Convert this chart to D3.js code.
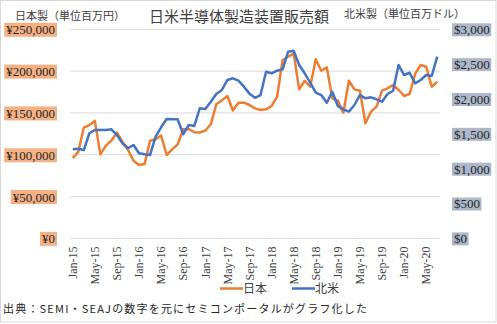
<!DOCTYPE html>
<html>
<head>
<meta charset="utf-8">
<script src="https://cdn.jsdelivr.net/npm/d3@7"></script>
<style>
  body { margin: 0; background: #fff; }
  svg { display: block; }
</style>
</head>
<body>
<svg id="chart" width="497" height="324"></svg>
<script>
// months Jan-15 .. Jul-20
var months = ["Jan-15","Feb-15","Mar-15","Apr-15","May-15","Jun-15","Jul-15","Aug-15","Sep-15","Oct-15","Nov-15","Dec-15",
  "Jan-16","Feb-16","Mar-16","Apr-16","May-16","Jun-16","Jul-16","Aug-16","Sep-16","Oct-16","Nov-16","Dec-16",
  "Jan-17","Feb-17","Mar-17","Apr-17","May-17","Jun-17","Jul-17","Aug-17","Sep-17","Oct-17","Nov-17","Dec-17",
  "Jan-18","Feb-18","Mar-18","Apr-18","May-18","Jun-18","Jul-18","Aug-18","Sep-18","Oct-18","Nov-18","Dec-18",
  "Jan-19","Feb-19","Mar-19","Apr-19","May-19","Jun-19","Jul-19","Aug-19","Sep-19","Oct-19","Nov-19","Dec-19",
  "Jan-20","Feb-20","Mar-20","Apr-20","May-20","Jun-20","Jul-20"];

// 日本製 (百万円)
var japan = [96000,103500,132500,135500,140500,100500,111000,117000,126500,115500,105700,92900,
  87800,89000,116800,118500,123000,99700,106500,112500,130500,130800,127000,126600,
  129000,136500,160500,165000,170300,153000,162300,162300,159500,155500,153500,154300,
  158300,169400,213300,217200,221200,178200,188500,181300,214100,200400,204500,167500,
  164700,150300,188500,178200,176600,137600,151500,157500,176600,179400,183400,177400,
  170300,172600,196600,207300,205300,181300,187400];

// 北米製 (百万ドル)
var northAmerica = [1278,1287,1268,1508,1555,1555,1555,1565,1483,1364,1293,1340,
  1221,1207,1197,1459,1594,1713,1708,1708,1494,1627,1613,1866,
  1857,1962,2072,2129,2273,2297,2263,2177,2077,2017,2057,2392,
  2369,2406,2426,2679,2693,2488,2369,2234,2091,2057,1947,2105,
  1900,1852,1818,1914,2057,2010,2024,1996,1962,2072,2119,2488,
  2344,2377,2225,2273,2344,2330,2607];

var yenTicks = [0,50000,100000,150000,200000,250000];
var usdTicks = [0,500,1000,1500,2000,2500,3000];

var series = [
  {name: "日本", values: japan, color: "#ED7D31", axis: "left"},
  {name: "北米", values: northAmerica, color: "#4472C4", axis: "right"}
];

var SERIF = '"Liberation Serif", "DejaVu Serif", serif';
var JP = '"Noto Sans CJK JP", sans-serif';

var svg = d3.select("#chart");
var margin = {top: 29.3, right: 57, bottom: 85.6, left: 70},
    width = 497 - margin.left - margin.right,
    height = 324 - margin.top - margin.bottom;

// outer border
svg.append("rect")
  .attr("x", 0.5).attr("y", 0.5).attr("width", 495.5).attr("height", 321.5)
  .style("fill", "none").style("stroke", "#d9d9d9");

var x = d3.scaleBand().domain(months).range([margin.left, margin.left + width]).padding(0);
var yL = d3.scaleLinear().domain([0, 250000]).range([margin.top + height, margin.top]);
var yR = d3.scaleLinear().domain([0, 3000]).range([margin.top + height, margin.top]);

// gridlines
svg.append("g").selectAll("line").data(yenTicks).join("line")
  .attr("x1", margin.left).attr("x2", margin.left + width)
  .attr("y1", d => yL(d)).attr("y2", d => yL(d))
  .style("stroke", "#d9d9d9").style("stroke-width", 1);

// left axis
var gL = svg.append("g")
  .attr("transform", "translate(57,0)")
  .call(d3.axisLeft(yL).tickValues(yenTicks).tickSize(0).tickPadding(2)
    .tickFormat(d => "¥" + d3.format(",")(d)));
gL.select(".domain").remove();
gL.selectAll("text")
  .attr("x", -2).attr("dy", "0.34em")
  .style("font-family", SERIF).style("font-size", "13px").style("fill", "#262626");
gL.selectAll(".tick").each(function() {
  var t = d3.select(this).select("text");
  var b = t.node().getBBox();
  d3.select(this).insert("rect", "text")
    .attr("x", b.x - 2).attr("y", -7).attr("width", b.width + 4).attr("height", 14)
    .style("fill", "#F4B183");
});

// right axis
var gR = svg.append("g")
  .attr("transform", "translate(452,0)")
  .call(d3.axisRight(yR).tickValues(usdTicks).tickSize(0).tickPadding(2)
    .tickFormat(d => "$" + d3.format(",")(d)));
gR.select(".domain").remove();
gR.selectAll("text")
  .attr("dy", "0.34em")
  .style("font-family", SERIF).style("font-size", "13px").style("fill", "#262626");
gR.selectAll(".tick").each(function() {
  var t = d3.select(this).select("text");
  var b = t.node().getBBox();
  d3.select(this).insert("rect", "text")
    .attr("x", 0).attr("y", -6.5).attr("width", b.x + b.width + 1.5).attr("height", 13)
    .style("fill", "#ADB9CA");
});

// x axis
var gX = svg.append("g")
  .attr("transform", `translate(0, ${margin.top + height})`)
  .call(d3.axisBottom(x).tickValues(months.filter((d, i) => i % 4 === 0)).tickSize(0));
gX.select(".domain").remove();
gX.selectAll("text")
  .attr("transform", "rotate(-90)")
  .attr("x", -8).attr("y", 0).attr("dy", "0.35em")
  .style("text-anchor", "end")
  .style("font-family", SERIF).style("font-size", "12px").style("fill", "#404040");

// lines
series.forEach(function(s) {
  var yS = s.axis === "left" ? yL : yR;
  var line = d3.line()
    .x((d, i) => x(months[i]) + x.bandwidth() / 2)
    .y(d => yS(d));
  svg.append("path")
    .datum(s.values)
    .attr("d", line)
    .style("fill", "none")
    .style("stroke", s.color)
    .style("stroke-width", 2.5)
    .style("stroke-linejoin", "round");
});

// titles
svg.append("text")
  .attr("x", 239).attr("y", 22)
  .style("font-family", JP).style("font-size", "15px").style("fill", "#404040").style("text-anchor", "middle")
  .text("日米半導体製造装置販売額");
svg.append("text")
  .attr("x", 15).attr("y", 20)
  .style("font-family", JP).style("font-size", "11px").style("fill", "#404040")
  .text("日本製（単位百万円）");
svg.append("text")
  .attr("x", 344).attr("y", 18)
  .style("font-family", JP).style("font-size", "11px").style("fill", "#404040")
  .text("北米製（単位百万ドル）");

// legend
var legend = svg.append("g");
var legendX = [220, 292];
series.forEach(function(s, i) {
  legend.append("line")
    .attr("x1", legendX[i]).attr("x2", legendX[i] + 23)
    .attr("y1", 288.5).attr("y2", 288.5)
    .style("stroke", s.color).style("stroke-width", 2.5);
  legend.append("text")
    .attr("x", legendX[i] + 23).attr("y", 293)
    .style("font-family", JP).style("font-size", "12px").style("fill", "#404040")
    .text(s.name);
});

// source
svg.append("text")
  .attr("x", 3).attr("y", 313)
  .attr("textLength", 364).attr("lengthAdjust", "spacing")
  .style("font-family", JP).style("font-size", "11px").style("fill", "#262626")
  .text("出典：SEMI・SEAJの数字を元にセミコンポータルがグラフ化した");
</script>
</body>
</html>
